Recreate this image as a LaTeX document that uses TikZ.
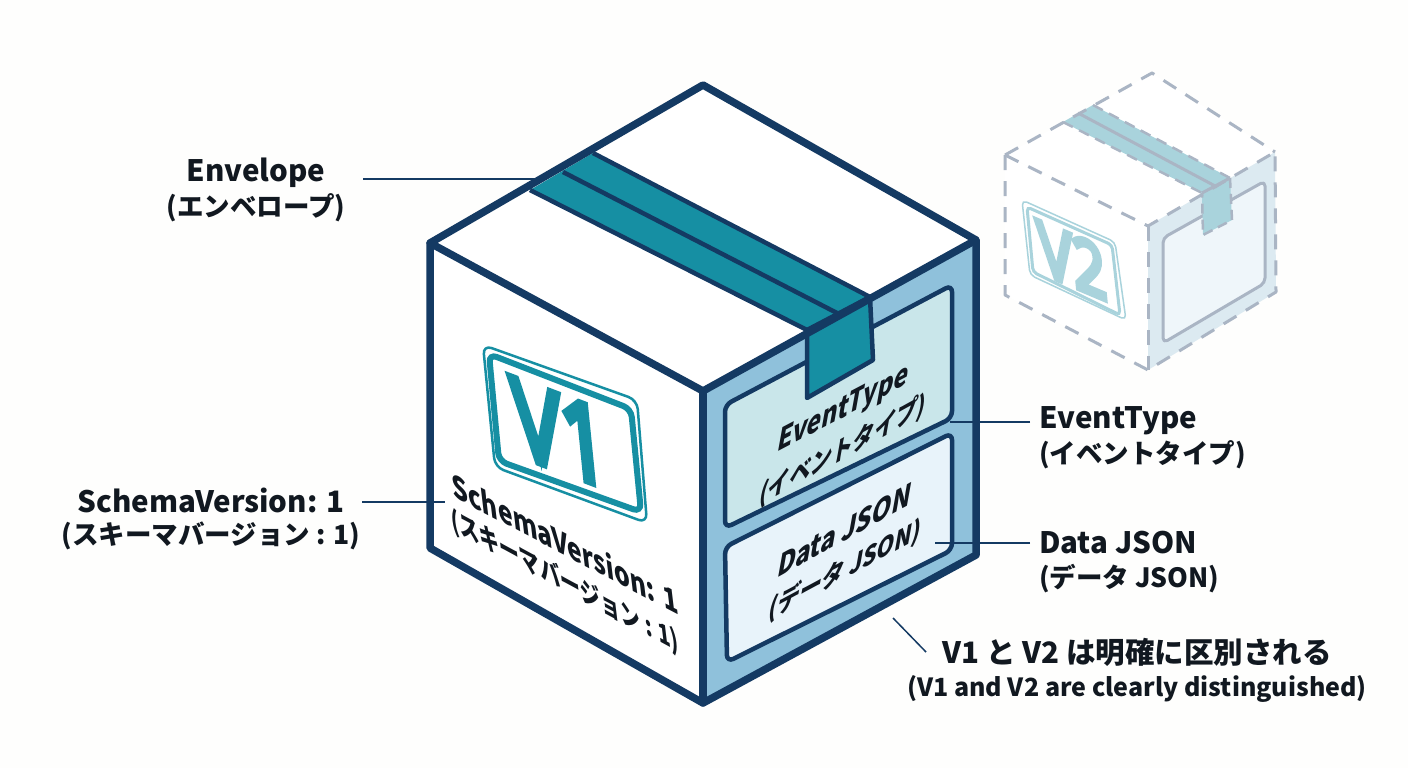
\documentclass[tikz,border=0pt]{standalone}
\usepackage{fontspec}
\setmainfont{Noto Sans CJK JP}
\newfontfamily\vfont[FakeBold=8]{Open Sans}
\definecolor{navy}{HTML}{143A63}
\definecolor{tealc}{HTML}{168FA3}
\definecolor{facec}{HTML}{8FC1DB}
\definecolor{evc}{HTML}{C9E6EA}
\definecolor{dac}{HTML}{E8F3FA}
\definecolor{ghost}{HTML}{AAB5C4}
\definecolor{ghtape}{HTML}{A9D3DC}
\definecolor{ghface}{HTML}{DCEAF1}
\definecolor{ghpanel}{HTML}{EFF6FA}
\definecolor{ink}{HTML}{111820}
\definecolor{bgc}{HTML}{FEFEFD}
\tikzset{
  edge3d/.style={draw=navy,line width=7.5pt,line join=round,line cap=round},
  tapeln/.style={draw=navy,line width=4.5pt,line join=round},
  panel/.style={draw=navy,line width=4.5pt,rounded corners=7pt},
  lead/.style={draw=navy,line width=1.5pt},
  lbl/.style={font=\fontsize{29.5}{32}\selectfont\bfseries,text=ink,inner sep=0pt},
  lbls/.style={font=\fontsize{26.5}{30}\selectfont\bfseries,text=ink,inner sep=0pt},
  facetxt/.style={transform shape,font=\fontsize{32}{34}\selectfont\bfseries,text=ink,inner sep=0pt},
  facetxs/.style={transform shape,font=\fontsize{28}{30}\selectfont\bfseries,text=ink,inner sep=0pt},
  gdash/.style={draw=ghost,line width=3pt,dash pattern=on 15pt off 11pt,line join=round},
  gline/.style={draw=ghost,line width=3pt,line join=round}
}
\begin{document}
\begin{tikzpicture}[x=1pt,y=-1pt]
\useasboundingbox (0,0) rectangle (1408,768);
\fill[bgc] (0,0) rectangle (1408,768);

% ---------- ghost box V2
\fill[white] (1152,73) -- (1275,152) -- (1148,226) -- (1005,155) -- cycle;
\fill[white] (1005,155) -- (1148,226) -- (1148,370) -- (1005,295) -- cycle;
\fill[ghface] (1148,226) -- (1275,152) -- (1276,292) -- (1148,370) -- cycle;
\draw[gline,rounded corners=5pt,fill=ghpanel] (1163,238) -- (1265,181) -- (1265,283) -- (1163,343) -- cycle;
\fill[ghtape] (1063,122) -- (1093,105) -- (1230,178) -- (1202,193) -- cycle;
\fill[ghtape] (1202,193) -- (1230,178) -- (1232,220) -- (1203,235) -- cycle;
\draw[gdash] (1005,155) -- (1152,73) -- (1275,152);
\draw[gdash] (1005,155) -- (1148,226) -- (1275,152);
\draw[gdash] (1005,155) -- (1005,295) -- (1148,370) -- (1276,292) -- (1275,152);
\draw[gdash] (1148,226) -- (1148,370);
\draw[gdash,line width=2.5pt,dash pattern=on 11pt off 7pt] (1063,122) -- (1202,193);
\draw[gdash,line width=2.5pt,dash pattern=on 11pt off 7pt] (1093,105) -- (1230,178);
\draw[gline] (1078,113) -- (1217,187);
\draw[gline] (1202,193) -- (1230,178);
\draw[gdash,line width=2.5pt,dash pattern=on 10pt off 6pt] (1230,178) -- (1232,220) -- (1203,235) -- (1202,193);
\draw[ghtape,line width=1.5pt,rounded corners=5pt] (1022,200) -- (1115,242) -- (1126,320) -- (1030,275) -- cycle;
\draw[ghtape,line width=3pt,rounded corners=4pt] (1027,207) -- (1112,245) -- (1120,315) -- (1033,272) -- cycle;
\begin{scope}[shift={(1072,260)},cm={0.78,-0.33,-0.1,1,(0,0)}]
\node[transform shape,inner sep=0pt,text=ghtape,font=\vfont\fontsize{74}{74}\selectfont] (vtwo) at (0,0) {V2};
\end{scope}

% ---------- main box
\fill[white] (703,85) -- (976,240) -- (703,391) -- (430,243) -- cycle;
\fill[white] (430,243) -- (703,391) -- (703,703) -- (430,548) -- cycle;
\fill[facec] (703,391) -- (976,240) -- (976,555) -- (703,703) -- cycle;
\draw[panel,fill=evc] (725,405) -- (952,285) -- (952,418) -- (725,528) -- cycle;
\draw[panel,fill=dac] (725,547) -- (952,433) -- (952,550) -- (727,662) -- cycle;
% tape
\fill[tealc] (530,190) -- (593,153) -- (870,297) -- (807,330) -- cycle;
\draw[tapeln] (530,190) -- (807,330);
\draw[tapeln] (593,153) -- (870,297);
\draw[tapeln] (563,172) -- (837,313);
\draw[tapeln,fill=tealc] (807,330) -- (870,297) -- (873,360) -- (807,398) -- cycle;
% box edges
\draw[edge3d] (430,243) -- (703,85) -- (976,240) -- (703,391) -- cycle;
\draw[edge3d] (430,243) -- (430,548) -- (703,703) -- (976,555) -- (976,240);
\draw[edge3d] (703,391) -- (703,703);

% V1 badge
\draw[tealc,line width=2.5pt,rounded corners=9pt] (483,345) -- (637,400) -- (647,523) -- (495,467) -- cycle;
\draw[tealc,line width=6pt,rounded corners=8pt] (489,354) -- (631,409) -- (641,512) -- (499,461) -- cycle;
\begin{scope}[shift={(560,433)},cm={0.74,-0.28,-0.1,1,(0,0)}]
\node[transform shape,inner sep=0pt,text=tealc,font=\vfont\fontsize{108}{108}\selectfont] (vone) at (0,0) {V1};
\end{scope}

% face text
\begin{scope}[shift={(565,543)},cm={0.78,-0.41,-0.12,1,(0,0)}]
\node[facetxt] (sv) at (0,0) {SchemaVersion: 1};
\end{scope}
\begin{scope}[shift={(565,582)},cm={0.72,-0.39,-0.12,1,(0,0)}]
\node[facetxs] (svj) at (0,0) {(スキーマバージョン : 1)};
\end{scope}
\begin{scope}[shift={(843,410)},cm={0.76,0.40,0.18,1,(0,0)}]
\node[facetxt] (ev) at (0,0) {EventType};
\end{scope}
\begin{scope}[shift={(843,450)},cm={0.76,0.42,0.18,1,(0,0)}]
\node[facetxs] (evj) at (0,0) {(イベントタイプ)};
\end{scope}
\begin{scope}[shift={(845,530)},cm={0.78,0.43,0.18,1,(0,0)}]
\node[facetxt] (da) at (0,0) {Data JSON};
\end{scope}
\begin{scope}[shift={(845,570)},cm={0.8,0.43,0.18,1,(0,0)}]
\node[facetxs] (daj) at (0,0) {(データ JSON)};
\end{scope}

% outer labels
\node[lbl] (envA) at (256,173) {Envelope};
\node[lbls] (envB) at (256,208) {(エンベロープ)};
\node[lbl] (schA) at (211,500) {SchemaVersion: 1};
\node[lbls] (schB) at (211,536) {(スキーマバージョン : 1)};
\node[lbl,anchor=west] (evA) at (1039,421) {EventType};
\node[lbls,anchor=west] (evB) at (1039,455) {(イベントタイプ)};
\node[lbl,anchor=west] (daA) at (1039,543) {Data JSON};
\node[lbls,anchor=west] (daB) at (1039,579) {(データ JSON)};
\node[lbl] (noteA) at (1137,652) {V1 と V2 は明確に区別される};
\node[lbls,font=\fontsize{25}{30}\selectfont\bfseries] (noteB) at (1137,689) {(V1 and V2 are clearly distinguished)};

% leaders
\coordinate (envT) at (535,179);
\coordinate (envS) at (363,179);
\coordinate (schS) at (362,502);
\coordinate (schT) at (445,502);
\coordinate (evS) at (1030,422);
\coordinate (evT) at (950,422);
\coordinate (daS) at (1030,543);
\coordinate (daT) at (935,543);
\coordinate (noS) at (926,652);
\coordinate (noT) at (893,618);
\draw[lead] (envS) -- (envT);
\draw[lead] (schS) -- (schT);
\draw[lead] (evS) -- (evT);
\draw[lead] (daS) -- (daT);
\draw[lead] (noS) -- (noT);
\end{tikzpicture}
\end{document}
